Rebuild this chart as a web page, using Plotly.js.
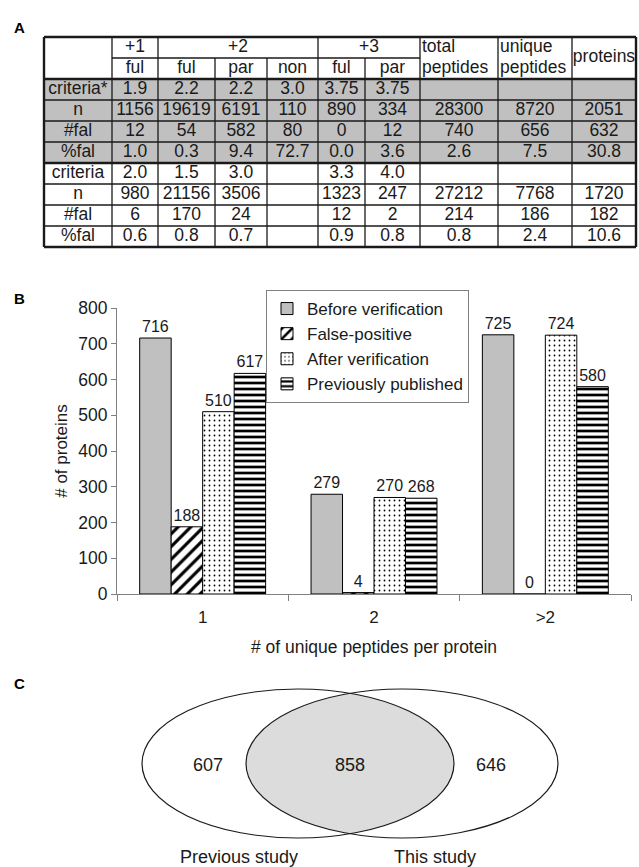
<!DOCTYPE html>
<html><head><meta charset="utf-8">
<script src="https://cdn.plot.ly/plotly-3.0.1.min.js"></script>
<style>html,body{margin:0;padding:0;background:#fff}#chart{width:639px;height:867px}</style>
</head><body><div id="chart"></div>
<script>
// ---------------- DATA ----------------
// Panel A (table)
const chargeGroups = ["+1", "+2", "+3"];
const subHeaders = ["ful", "ful", "par", "non", "ful", "par"];
const summaryHeaders = [["total", "peptides"], ["unique", "peptides"], ["proteins"]];
const rowLabels = ["criteria*", "n", "#fal", "%fal", "criteria", "n", "#fal", "%fal"];
const rowValues = [
  ["1.9", "2.2", "2.2", "3.0", "3.75", "3.75", "", "", ""],
  ["1156", "19619", "6191", "110", "890", "334", "28300", "8720", "2051"],
  ["12", "54", "582", "80", "0", "12", "740", "656", "632"],
  ["1.0", "0.3", "9.4", "72.7", "0.0", "3.6", "2.6", "7.5", "30.8"],
  ["2.0", "1.5", "3.0", "", "3.3", "4.0", "", "", ""],
  ["980", "21156", "3506", "", "1323", "247", "27212", "7768", "1720"],
  ["6", "170", "24", "", "12", "2", "214", "186", "182"],
  ["0.6", "0.8", "0.7", "", "0.9", "0.8", "0.8", "2.4", "10.6"]
];
// Panel B (bars)
const categories = ["1", "2", ">2"];
const seriesNames = ["Before verification", "False-positive", "After verification", "Previously published"];
const beforeVerification = [716, 279, 725];
const falsePositive = [188, 4, 0];
const afterVerification = [510, 270, 724];
const previouslyPublished = [617, 268, 580];
// Panel C (Venn)
const vennSetNames = ["Previous study", "This study"];
const vennCounts = [607, 858, 646]; // previous only, both, this only

// ---------------- LAYOUT / STYLE ----------------
const FONT = "Liberation Sans, Arial, sans-serif";
const INK = "#1a1a1a";
const colWidths = [68, 46, 57, 52, 51, 47, 55, 78, 74, 64];
const groupSpans = [1, 3, 2];
const tableLeft = 44, tableTop = 37, rowH = 21, nRows = 10;
const colX = [tableLeft];
colWidths.forEach(w => colX.push(colX[colX.length - 1] + w));
const rowY = [];
for (let k = 0; k <= nRows; k++) rowY.push(tableTop + k * rowH);
const rowMid = k => (rowY[k] + rowY[k + 1]) / 2;
const colMid = j => (colX[j] + colX[j + 1]) / 2;

const shapes = [];
// gray band (first criteria block)
shapes.push({type: "rect", xref: "x3", yref: "y3", x0: colX[0], x1: colX[10], y0: rowY[2], y1: rowY[6],
  fillcolor: "#c0c0c0", line: {width: 0}, layer: "below"});
// horizontal lines
for (let k = 0; k <= nRows; k++) {
  const thick = [0, 2, 6, 10].includes(k);
  shapes.push({type: "line", xref: "x3", yref: "y3",
    x0: k === 1 ? colX[1] : colX[0], x1: k === 1 ? colX[7] : colX[10],
    y0: rowY[k], y1: rowY[k], line: {color: INK, width: thick ? 2.4 : 1.3}});
}
// vertical lines
for (let j = 0; j <= 10; j++) {
  const outer = (j === 0 || j === 10);
  const spanned = [3, 4, 6].includes(j);
  shapes.push({type: "line", xref: "x3", yref: "y3", x0: colX[j], x1: colX[j],
    y0: spanned ? rowY[1] : rowY[0], y1: rowY[10], line: {color: INK, width: outer ? 2.4 : 1.3}});
}

// table text
const cx = [], cy = [], ct = [];
const lx = [], ly = [], lt = [];
let c0 = 1;
chargeGroups.forEach((g, i) => {
  const c1 = c0 + groupSpans[i];
  cx.push((colX[c0] + colX[c1]) / 2); cy.push(rowMid(0)); ct.push(g);
  c0 = c1;
});
subHeaders.forEach((s, i) => { cx.push(colMid(i + 1)); cy.push(rowMid(1)); ct.push(s); });
summaryHeaders.forEach((h, i) => {
  const j = 7 + i;
  if (h.length === 2) {
    h.forEach((t, r) => { lx.push(colX[j] + 2); ly.push(rowMid(r)); lt.push(t); });
  } else {
    cx.push(colMid(j)); cy.push(rowY[1]); ct.push(h[0]);
  }
});
rowLabels.forEach((lab, r) => {
  cx.push(colMid(0)); cy.push(rowMid(r + 2)); ct.push(lab);
  rowValues[r].forEach((v, c) => { if (v !== "") { cx.push(colMid(c + 1)); cy.push(rowMid(r + 2)); ct.push(v); } });
});

// Venn geometry
const vCy = 763.5, vRx = 156, vRy = 74.5, vCx = [298, 402];
const vMid = (vCx[0] + vCx[1]) / 2;
const t0 = Math.acos((vMid - vCx[0]) / vRx);
const lensX = [], lensY = [];
const N = 60;
for (let i = 0; i <= N; i++) { const t = -t0 + 2 * t0 * i / N; lensX.push(vCx[0] + vRx * Math.cos(t)); lensY.push(vCy + vRy * Math.sin(t)); }
for (let i = 0; i <= N; i++) { const t = Math.PI - t0 + 2 * t0 * i / N; lensX.push(vCx[1] + vRx * Math.cos(t)); lensY.push(vCy + vRy * Math.sin(t)); }
vCx.forEach(c => shapes.push({type: "circle", xref: "x3", yref: "y3", x0: c - vRx, x1: c + vRx,
  y0: vCy - vRy, y1: vCy + vRy, line: {color: INK, width: 1.2}, layer: "above"}));

// ---------------- TRACES ----------------
const outline = {color: "#000", width: 1};
function bar(name, y, marker) {
  return {type: "bar", name: name, x: categories, y: y, xaxis: "x", yaxis: "y",
    text: y.map(String), textposition: "outside", cliponaxis: false, constraintext: "none",
    textfont: {family: FONT, size: 16, color: INK}, marker: Object.assign({line: outline}, marker),
    hoverinfo: "skip"};
}
const traces = [
  bar(seriesNames[0], beforeVerification, {color: "#c0c0c0"}),
  bar(seriesNames[1], falsePositive, {color: "#ffffff", pattern: {shape: "/", fgcolor: "#000", bgcolor: "#fff", size: 9, solidity: 0.35}}),
  bar(seriesNames[2], afterVerification, {color: "#ffffff", pattern: {shape: ".", fgcolor: "#000", bgcolor: "#fff", size: 5, solidity: 0.1}}),
  bar(seriesNames[3], previouslyPublished, {color: "#ffffff", pattern: {shape: "-", fgcolor: "#000", bgcolor: "#fff", size: 6, solidity: 0.45}}),
  {type: "scatter", mode: "lines", x: lensX, y: lensY, fill: "toself", fillcolor: "#dcdcdc",
    line: {width: 0}, xaxis: "x3", yaxis: "y3", showlegend: false, hoverinfo: "skip"},
  {type: "scatter", mode: "text", x: cx, y: cy, text: ct, textposition: "middle center",
    textfont: {family: FONT, size: 17.5, color: INK}, xaxis: "x3", yaxis: "y3", showlegend: false, hoverinfo: "skip", cliponaxis: false},
  {type: "scatter", mode: "text", x: lx, y: ly, text: lt, textposition: "middle right",
    textfont: {family: FONT, size: 17.5, color: INK}, xaxis: "x3", yaxis: "y3", showlegend: false, hoverinfo: "skip", cliponaxis: false},
  {type: "scatter", mode: "text",
    x: [vCx[0] - 90, vMid, vCx[1] + 89, vCx[0] - 59, vCx[1] + 33],
    y: [vCy + 3, vCy + 3, vCy + 3, vCy + 94.5, vCy + 94.5],
    text: vennCounts.map(String).concat(vennSetNames), textposition: "middle center",
    textfont: {family: FONT, size: 18, color: INK}, xaxis: "x3", yaxis: "y3", showlegend: false, hoverinfo: "skip", cliponaxis: false}
];

const W = 639, H = 867;
const layout = {
  width: W, height: H, margin: {l: 0, r: 0, t: 0, b: 0},
  paper_bgcolor: "#fff", plot_bgcolor: "rgba(0,0,0,0)",
  font: {family: FONT, color: INK, size: 17},
  barmode: "group", bargap: 0.265, bargroupgap: 0,
  showlegend: true,
  legend: {x: 266 / W, y: 1 - 290 / H, xanchor: "left", yanchor: "top", bgcolor: "#fff",
    bordercolor: "#808080", borderwidth: 1, font: {family: FONT, size: 17, color: INK},
    tracegroupgap: 0, itemwidth: 30},
  xaxis: {domain: [117 / W, 631 / W], anchor: "y", type: "category", tickson: "boundaries",
    ticks: "outside", ticklen: 6, tickcolor: "#808080", showline: true, linecolor: "#808080", linewidth: 1,
    tickfont: {size: 17}, ticklabelstandoff: 8, showgrid: false, zeroline: false,
    title: {text: "# of unique peptides per protein", font: {size: 17.5}, standoff: 14}},
  yaxis: {domain: [1 - 594 / H, 1 - 308 / H], anchor: "x", range: [0, 800], dtick: 100,
    ticks: "outside", ticklen: 5, tickcolor: "#808080", showline: true, linecolor: "#808080", linewidth: 1,
    tickfont: {size: 17.5}, showgrid: false, zeroline: false,
    title: {text: "# of proteins", font: {size: 17}, standoff: 6}},
  xaxis3: {domain: [0, 1], range: [0, W], anchor: "y3", visible: false, fixedrange: true},
  yaxis3: {domain: [0, 1], range: [H, 0], anchor: "x3", visible: false, fixedrange: true},
  shapes: shapes,
  annotations: [["A", 19, 27], ["B", 19, 298], ["C", 19, 683]].map(a => ({
    text: "<b>" + a[0] + "</b>", x: a[1], y: a[2], xref: "x3", yref: "y3", showarrow: false,
    font: {family: FONT, size: 15, color: "#000"}, xanchor: "center", yanchor: "middle"}))
};
Plotly.newPlot("chart", traces, layout, {staticPlot: true, displayModeBar: false});
</script></body></html>
